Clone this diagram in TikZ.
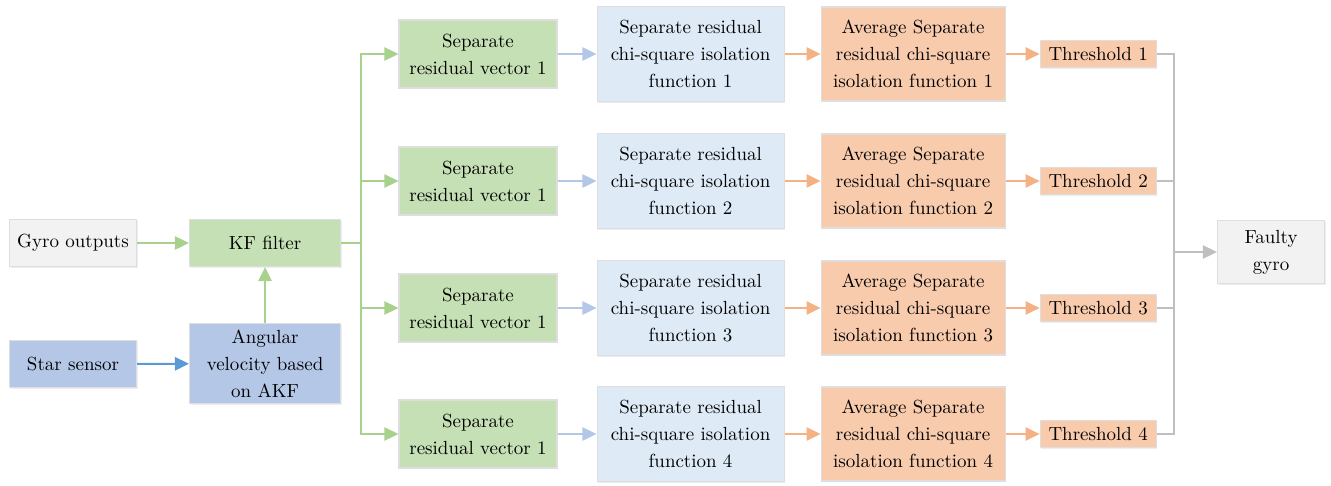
\documentclass[tikz,border=0pt]{standalone}
\usepackage{xcolor}
\usepackage{tikz}
\usetikzlibrary{arrows.meta, positioning, shadows}
\definecolor{greenfill}{HTML}{C5E0B4}
\definecolor{greenline}{HTML}{A9D18E}
\definecolor{bluefill}{HTML}{B4C7E7}
\definecolor{blueline}{HTML}{5B9BD5}
\definecolor{palefill}{HTML}{DEEBF7}
\definecolor{paleline}{HTML}{B4C7E7}
\definecolor{orangefill}{HTML}{F8CBAD}
\definecolor{orangeline}{HTML}{F4B183}
\definecolor{grayfill}{HTML}{F2F2F2}
\definecolor{grayline}{HTML}{BFBFBF}

\begin{document}
\begin{tikzpicture}[
    box/.style={draw=black!13, line width=0.6pt, align=center, inner sep=1pt,
        font=\fontsize{10.8}{15.4}\selectfont,
        drop shadow={shadow xshift=0.7pt, shadow yshift=-0.7pt, opacity=0.18, fill=black!40}},
    inbox/.style={box, fill=grayfill, minimum width=2.54cm, minimum height=0.94cm},
    kfbox/.style={box, fill=greenfill, minimum width=3.02cm, minimum height=0.94cm},
    akfbox/.style={box, fill=bluefill, minimum width=3.02cm, minimum height=1.6cm},
    vecbox/.style={box, fill=greenfill, minimum width=3.16cm, minimum height=1.36cm},
    funcbox/.style={box, fill=palefill, minimum width=3.74cm, minimum height=1.9cm},
    avgbox/.style={box, fill=orangefill, minimum width=3.68cm, minimum height=1.88cm},
    thrbox/.style={box, fill=orangefill, minimum width=2.32cm, minimum height=0.54cm},
    arrow/.style={-{Triangle[length=8pt, width=7.5pt]}, line width=1.1pt},
    garrow/.style={arrow, greenline},
    barrow/.style={arrow, blueline},
    parrow/.style={arrow, paleline},
    oarrow/.style={arrow, orangeline},
    grayarrow/.style={arrow, grayline}
]
    \useasboundingbox (0,0) rectangle (26.62,-9.70);

    % Inputs
    \node[inbox] (gyro) at (1.46,-4.86) {Gyro outputs};
    \node[box, fill=bluefill, minimum width=2.54cm, minimum height=0.94cm, below=1.46cm of gyro] (star) {Star sensor};
    \node[kfbox, right=1.04cm of gyro] (kf) {KF filter};
    \node[akfbox, below=1.12cm of kf] (akf) {Angular\\velocity based\\on AKF};

    % Output
    \node[box, fill=grayfill, minimum width=2.14cm, minimum height=1.26cm] (faulty) at (25.42,-5.04) {Faulty\\gyro};
    \coordinate[left=0.86cm of faulty.west] (bus);

    % Four isolation branches
    \foreach \i/\y in {1/-1.08, 2/-3.62, 3/-6.16, 4/-8.68} {
        \node[vecbox] (vec\i) at (9.56,\y) {Separate\\residual vector 1};
        \node[funcbox, right=0.78cm of vec\i] (func\i) {Separate residual\\chi-square isolation\\function \i};
        \node[avgbox, right=0.72cm of func\i] (avg\i) {Average Separate\\residual chi-square\\isolation function \i};
        \node[thrbox, right=0.68cm of avg\i] (thr\i) {Threshold \i};
        \draw[garrow] (kf.east) -- ++(0.4,0) |- (vec\i.west);
        \draw[parrow] (vec\i) -- (func\i);
        \draw[oarrow] (func\i) -- (avg\i);
        \draw[oarrow] (avg\i) -- (thr\i);
        \draw[grayline, line width=1.1pt] (thr\i.east) -| (bus);
    }

    % Connections
    \draw[garrow] (gyro) -- (kf);
    \draw[barrow] (star) -- (akf);
    \draw[garrow] (akf) -- (kf);
    \draw[grayarrow] (bus) -- (faulty);
\end{tikzpicture}
\end{document}
